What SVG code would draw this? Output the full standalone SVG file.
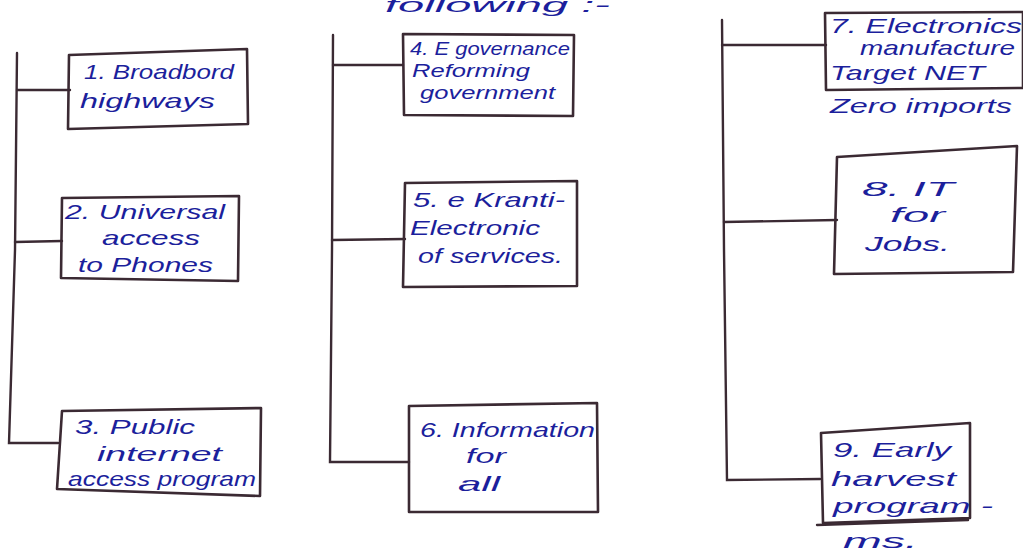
<svg xmlns="http://www.w3.org/2000/svg" width="1023" height="550" viewBox="0 0 1023 550">
<style>
.bx{fill:none;stroke:#3b2a33;stroke-width:2.6;stroke-linejoin:round}
.ln{fill:none;stroke:#3b2a33;stroke-width:2.4;stroke-linecap:round}
.t{font-family:"Liberation Sans",Arial,sans-serif;font-size:21px;fill:#1c1f9c;font-style:italic}
.s{font-size:18px}
</style>
<rect width="1023" height="550" fill="#ffffff"/>
<text class="t" x="385" y="12" font-size="30" textLength="225" lengthAdjust="spacingAndGlyphs">following :-</text>
<g id="connectors">
<polyline class="ln" points="17,53 15,250 9,443 58,443"/>
<line class="ln" x1="17" y1="90" x2="70" y2="90"/>
<line class="ln" x1="15" y1="242" x2="62" y2="241"/>
<polyline class="ln" points="333,35 332,250 330,462 409,462"/>
<line class="ln" x1="333" y1="65" x2="403" y2="65"/>
<line class="ln" x1="332" y1="240" x2="405" y2="239"/>
<polyline class="ln" points="722,20 724,250 727,480 820,479"/>
<line class="ln" x1="722" y1="45" x2="826" y2="45"/>
<line class="ln" x1="724" y1="222" x2="837" y2="220"/>
</g>
<g id="n1">
<polygon class="bx" points="69,55 247,49 248,124 68,129"/>
<text class="t" x="84" y="79" textLength="150" lengthAdjust="spacingAndGlyphs">1. Broadbord</text>
<text class="t" x="80" y="108" textLength="135" lengthAdjust="spacingAndGlyphs">highways</text>
</g>
<g id="n2">
<polygon class="bx" points="62,198 239,196 238,281 61,278"/>
<text class="t" x="65" y="219" textLength="160" lengthAdjust="spacingAndGlyphs">2. Universal</text>
<text class="t" x="102" y="245" textLength="98" lengthAdjust="spacingAndGlyphs">access</text>
<text class="t" x="78" y="272" textLength="135" lengthAdjust="spacingAndGlyphs">to Phones</text>
</g>
<g id="n3">
<polygon class="bx" points="62,411 261,408 260,496 57,489"/>
<text class="t" x="75" y="434" textLength="120" lengthAdjust="spacingAndGlyphs">3. Public</text>
<text class="t" x="97" y="461" textLength="125" lengthAdjust="spacingAndGlyphs">internet</text>
<text class="t" x="68" y="486" textLength="188" lengthAdjust="spacingAndGlyphs">access program</text>
</g>
<g id="n4">
<polygon class="bx" points="403,34 574,35 573,116 404,115"/>
<text class="t s" x="410" y="55" textLength="160" lengthAdjust="spacingAndGlyphs">4. E governance</text>
<text class="t s" x="412" y="77" textLength="118" lengthAdjust="spacingAndGlyphs">Reforming</text>
<text class="t s" x="420" y="99" textLength="135" lengthAdjust="spacingAndGlyphs">government</text>
</g>
<g id="n5">
<polygon class="bx" points="405,183 577,181 577,286 403,287"/>
<text class="t" x="413" y="207" textLength="152" lengthAdjust="spacingAndGlyphs">5. e Kranti-</text>
<text class="t" x="410" y="235" textLength="130" lengthAdjust="spacingAndGlyphs">Electronic</text>
<text class="t" x="418" y="263" textLength="145" lengthAdjust="spacingAndGlyphs">of services.</text>
</g>
<g id="n6">
<polygon class="bx" points="409,406 597,403 598,512 409,512"/>
<text class="t" x="420" y="437" textLength="175" lengthAdjust="spacingAndGlyphs">6. Information</text>
<text class="t" x="466" y="463" textLength="40" lengthAdjust="spacingAndGlyphs">for</text>
<text class="t" x="458" y="491" textLength="42" lengthAdjust="spacingAndGlyphs">all</text>
</g>
<g id="n7">
<polygon class="bx" points="825,13 1023,12 1023,88 826,90"/>
<text class="t" x="830" y="33" textLength="192" lengthAdjust="spacingAndGlyphs">7. Electronics</text>
<text class="t" x="860" y="55" textLength="155" lengthAdjust="spacingAndGlyphs">manufacture</text>
<text class="t" x="830" y="80" textLength="155" lengthAdjust="spacingAndGlyphs">Target NET</text>
<text class="t" x="830" y="113" textLength="182" lengthAdjust="spacingAndGlyphs">Zero imports</text>
</g>
<g id="n8">
<polygon class="bx" points="837,157 1017,146 1013,272 834,274"/>
<text class="t" x="862" y="196" textLength="92" lengthAdjust="spacingAndGlyphs">8. IT</text>
<text class="t" x="890" y="222" textLength="55" lengthAdjust="spacingAndGlyphs">for</text>
<text class="t" x="865" y="251" textLength="85" lengthAdjust="spacingAndGlyphs">Jobs.</text>
</g>
<g id="n9">
<polygon class="bx" points="821,433 970,423 970,518 823,523"/>
<line class="ln" x1="817" y1="525" x2="968" y2="520"/>
<text class="t" x="833" y="457" textLength="118" lengthAdjust="spacingAndGlyphs">9. Early</text>
<text class="t" x="831" y="486" textLength="125" lengthAdjust="spacingAndGlyphs">harvest</text>
<text class="t" x="833" y="513" textLength="160" lengthAdjust="spacingAndGlyphs">program -</text>
<text class="t" x="843" y="548" textLength="75" lengthAdjust="spacingAndGlyphs">ms.</text>
</g>
</svg>
